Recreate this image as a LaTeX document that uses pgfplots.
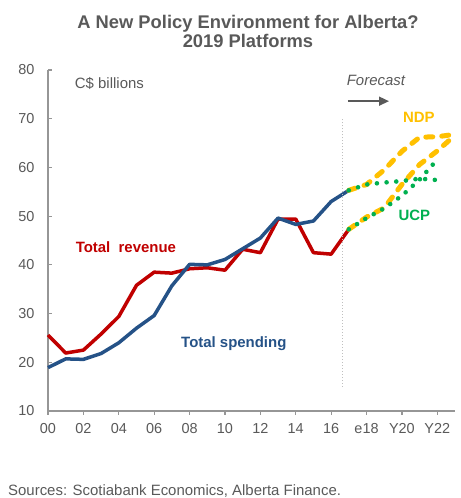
\documentclass[border=0pt]{standalone}
\usepackage{fontspec}
\setmainfont{Liberation Sans}
\usepackage{pgfplots}
\pgfplotsset{compat=1.18}
\usetikzlibrary{arrows.meta}
\definecolor{tgray}{HTML}{595959}
\definecolor{agray}{HTML}{969696}
\definecolor{lgray}{HTML}{BFBFBF}
\definecolor{rev}{HTML}{C00000}
\definecolor{spend}{HTML}{255287}
\definecolor{ndp}{HTML}{FFC000}
\definecolor{ucp}{HTML}{00B050}
\begin{document}
\begin{tikzpicture}[x=1bp,y=1bp]
\path[use as bounding box] (0,0) rectangle (461,498);
\node[font=\fontsize{18.4}{20}\selectfont\bfseries, text=tgray, anchor=base] at (248,469) {A New Policy Environment for Alberta?};
\node[font=\fontsize{18.4}{20}\selectfont\bfseries, text=tgray, anchor=base] at (248,450) {2019 Platforms};
\node[anchor=base west, font=\fontsize{15}{17}\selectfont, text=tgray, inner sep=0pt] at (8,2) {Sources: Scotiabank Economics, Alberta Finance.};
\begin{axis}[
  at={(48bp,87bp)}, anchor=south west,
  scale only axis, width=407bp, height=341bp,
  xmin=0, xmax=23, ymin=10, ymax=80,
  axis lines=left,
  axis line style={-, draw=agray, line width=1.5bp},
  tick align=inside,
  major tick length=4bp,
  tick style={draw=agray, line width=1.2bp},
  xtick style={yshift=-4bp},
  xtick={0,2,4,6,8,10,12,14,16,18,20,22},
  xticklabels={00,02,04,06,08,10,12,14,16,e18,Y20,Y22},
  ytick={10,20,30,40,50,60,70,80},
  /pgf/number format/assume math mode=true,
  ticklabel style={font=\fontsize{14.5}{16}\selectfont, text=tgray},
  xticklabel style={anchor=base, yshift=-23bp},
  yticklabel style={anchor=east, xshift=-10bp},
  clip=false,
]
\addplot[rev, line width=3.5bp, line join=round] coordinates {(0,25.6)(1,21.9)(2,22.5)(3,25.8)(4,29.4)(5,35.8)(6,38.5)(7,38.3)(8,39.2)(9,39.4)(10,38.9)(11,43.2)(12,42.5)(13,49.4)(14,49.4)(15,42.5)(16,42.2)(17,47.3)};
\addplot[spend, line width=3.5bp, line join=round] coordinates {(0,18.9)(1,20.7)(2,20.6)(3,21.8)(4,24.0)(5,27.0)(6,29.6)(7,35.7)(8,40.1)(9,40.0)(10,41.1)(11,43.3)(12,45.5)(13,49.6)(14,48.3)(15,49.0)(16,53.0)(17,55.3)};
\addplot[ndp, line width=5bp, line cap=round, dash pattern=on 7bp off 9bp] coordinates {(17,55.3)(18,56.5)(19,59.5)(20,63.3)(21,66.2)(22,66.3)(23,66.8)};
\addplot[ndp, line width=5bp, line cap=round, dash pattern=on 7bp off 9bp] coordinates {(17,47.3)(18,49.8)(19,51.7)(20,56.5)(21,60.6)(22,63.4)(23,66.6)};
\addplot[ucp, line width=4.6bp, line cap=round, dash pattern=on 0bp off 9.7bp] coordinates {(17,55.3)(18,56.5)(19,56.9)(20,57.2)(21,57.7)(22,57.4)};
\addplot[ucp, line width=4.6bp, line cap=round, dash pattern=on 0bp off 9.7bp] coordinates {(17,47.3)(18,49.6)(19,51.6)(20,54.2)(21,57.5)(21.75,60.6)};
\draw[lgray, line width=1bp, dotted] (axis cs:16.67,15) -- (axis cs:16.67,70.2);
\draw[tgray, line width=1.5bp, -{Triangle[length=10bp,width=9bp]}] (axis cs:16.95,73.6) -- (axis cs:19.27,73.6);
\node[font=\fontsize{15}{17}\selectfont\itshape, text=tgray] at (axis cs:18.53,77.9) {Forecast};
\node[font=\fontsize{15}{17}\selectfont, text=tgray] at (axis cs:3.47,77.3) {C\$ billions};
\node[font=\fontsize{15}{17}\selectfont\bfseries, text=ndp] at (axis cs:20.96,70.3) {NDP};
\node[font=\fontsize{15}{17}\selectfont\bfseries, text=ucp] at (axis cs:20.7,50.2) {UCP};
\node[font=\fontsize{15}{17}\selectfont\bfseries, text=rev] at (axis cs:4.4,43.7) {Total\ \ revenue};
\node[font=\fontsize{15}{17}\selectfont\bfseries, text=spend] at (axis cs:10.5,23.75) {Total spending};
\end{axis}
\end{tikzpicture}
\end{document}
